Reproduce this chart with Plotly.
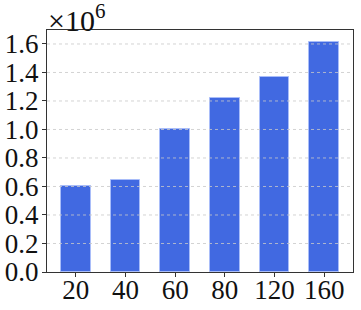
import plotly.graph_objects as go

categories = ["20", "40", "60", "80", "120", "160"]
values = [0.600e6, 0.643e6, 1.002e6, 1.219e6, 1.366e6, 1.616e6]
y_ticks = [0.0, 0.2, 0.4, 0.6, 0.8, 1.0, 1.2, 1.4, 1.6]
y_tick_labels = ["0.0", "0.2", "0.4", "0.6", "0.8", "1.0", "1.2", "1.4", "1.6"]

scale = 1e6
font_family = "Liberation Serif, Times New Roman, DejaVu Serif, serif"
font_size = 27

fig = go.Figure()
fig.add_trace(go.Bar(
    x=list(range(len(categories))),
    y=[v / scale for v in values],
    width=0.6,
    marker=dict(color="#4169E1", line=dict(color="rgba(170,190,250,0.9)", width=1)),
))

for t in y_ticks[1:]:
    fig.add_shape(type="line", xref="paper", x0=0, x1=1, yref="y", y0=t, y1=t,
                  line=dict(color="rgba(200,200,200,0.8)", width=1, dash="dot"),
                  layer="above")

fig.update_layout(
    width=361, height=310,
    margin=dict(l=47, r=8, t=30, b=38),
    plot_bgcolor="white", paper_bgcolor="white",
    showlegend=False,
    font=dict(family=font_family, size=font_size, color="#111"),
    bargap=0,
)
fig.update_xaxes(
    range=[-0.58, 5.58],
    tickmode="array",
    tickvals=list(range(len(categories))),
    ticktext=categories,
    ticks="outside", ticklen=4, tickcolor="#333",
    ticklabelstandoff=-11,
    tickfont=dict(family=font_family, size=font_size, color="#111"),
    showgrid=False, zeroline=False, automargin=False,
    showline=True, linecolor="#333", linewidth=1.2, mirror=True,
)
fig.update_yaxes(
    range=[0, 1.698],
    tickmode="array",
    tickvals=y_ticks,
    ticktext=y_tick_labels,
    ticks="outside", ticklen=4, tickcolor="#333",
    ticklabelstandoff=-2,
    tickfont=dict(family=font_family, size=font_size, color="#111"),
    showgrid=False, zeroline=False, automargin=False,
    showline=True, linecolor="#333", linewidth=1.2, mirror=True,
)
fig.add_annotation(
    text="×10<sup><span style='font-size:21px'>6</span></sup>",
    xref="paper", yref="paper", x=0, y=1,
    xanchor="left", yanchor="bottom", showarrow=False,
    font=dict(family=font_family, size=30, color="#111"),
    xshift=-1, yshift=-9,
)

fig.write_html("out.html", config={"displayModeBar": False},
               post_script="document.body.style.margin='0';document.body.style.overflow='hidden';")
